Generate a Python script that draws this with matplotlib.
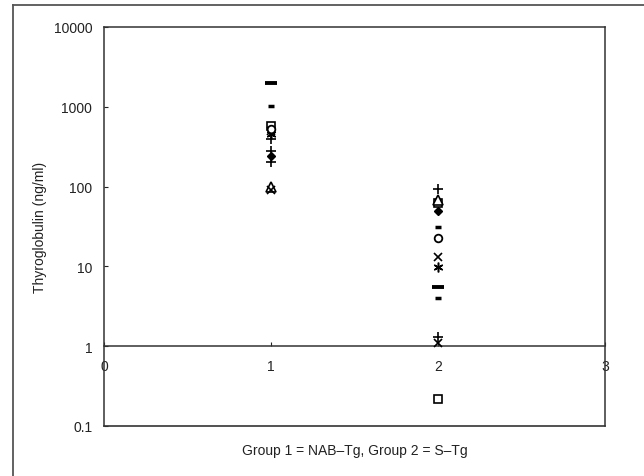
import matplotlib
matplotlib.use("Agg")
import matplotlib.pyplot as plt
from matplotlib.lines import Line2D

plt.rcParams['font.family'] = ['Liberation Sans', 'DejaVu Sans']

# group (x) and thyroglobulin (ng/ml) for each marker type
diamond_grp = [1, 2]
diamond_val = [245, 49]
square_grp = [1, 2, 2]
square_val = [580, 0.22, 63]
triangle_grp = [1, 2]
triangle_val = [100, 67]
xmark_grp = [1, 1, 2, 2]
xmark_val = [90, 500, 13, 1.1]
asterisk_grp = [1, 2]
asterisk_val = [450, 9.8]
circle_grp = [1, 2]
circle_val = [530, 23]
plus_grp = [1, 1, 1, 2, 2]
plus_val = [390, 280, 205, 94, 1.3]
longdash_grp = [1, 2]
longdash_val = [2000, 5.5]
shortdash_grp = [1, 2, 2]
shortdash_val = [1030, 4.0, 31]

yticks = [0.1, 1, 10, 100, 1000, 10000]
ytick_labels = ['0.1', '1', '10', '100', '1000', '10000']
xticks = [0, 1, 2, 3]
xtick_labels = ['0', '1', '2', '3']

fig = plt.figure(figsize=(6.44, 4.77), dpi=100)
ax = fig.add_axes([104 / 644, 1 - 427 / 477, 501 / 644, 399 / 477])

k = dict(color='black', linestyle='none', zorder=3, clip_on=False)
ax.plot(diamond_grp, diamond_val, marker='D', markersize=4.5, **k)
ax.plot(square_grp, square_val, marker='s', markersize=5.5, mfc='white', mew=1.2, **k)
ax.plot(triangle_grp, triangle_val, marker='^', markersize=7, mfc='white', mew=1.2, **k)
ax.plot(xmark_grp, xmark_val, marker='x', markersize=6, mew=1.2, **k)
ax.plot(asterisk_grp, asterisk_val, marker=(6, 2, 0), markersize=7, mew=1.1, **k)
ax.plot(circle_grp, circle_val, marker='o', markersize=5.5, mfc='white', mew=1.3, **k)
ax.plot(plus_grp, plus_val, marker='+', markersize=7, mew=1.2, **k)
ax.plot(longdash_grp, longdash_val, marker='_', markersize=8, mew=2.8, **k)
ax.plot(shortdash_grp, shortdash_val, marker='_', markersize=4.5, mew=2.5, **k)

ax.set_yscale('log')
ax.set_ylim(0.1, 10000)
ax.set_xlim(0, 3)
ax.set_yticks(yticks)
ax.set_yticklabels(ytick_labels)
ax.minorticks_off()
ax.set_xticks(xticks)
ax.set_xticklabels(xtick_labels)

# x axis crosses at y = 1, frame kept around the plot area
ax.spines['bottom'].set_position(('data', 1))
ax.axhline(0.1, color='#333333', lw=1.2, clip_on=False, zorder=2)
for s in ['left', 'right', 'top', 'bottom']:
    ax.spines[s].set_color('#333333')
    ax.spines[s].set_linewidth(1.1)

ax.tick_params(axis='y', direction='in', length=3, width=0.8, pad=8.5,
               labelsize=10, colors='#222222')
ax.tick_params(axis='x', direction='in', length=3, width=0.8, pad=9,
               labelsize=10, colors='#222222')

ax.text(0.5, -0.06, 'Group 1 = NAB\u2013Tg, Group 2 = S\u2013Tg', transform=ax.transAxes,
        ha='center', va='center', fontsize=10, color='#222222')
ax.text(-0.128, 0.5, 'Thyroglobulin (ng/ml)', transform=ax.transAxes, rotation=90,
        ha='center', va='center', fontsize=10, color='#222222')

# outer chart frame (cut at right and bottom)
fig.add_artist(Line2D([13 / 644, 13 / 644], [0, 1 - 6 / 477], color='#555555', lw=1.3))
fig.add_artist(Line2D([13 / 644, 1], [1 - 6 / 477, 1 - 6 / 477], color='#555555', lw=1.3))

fig.savefig('out.png', dpi=100)
